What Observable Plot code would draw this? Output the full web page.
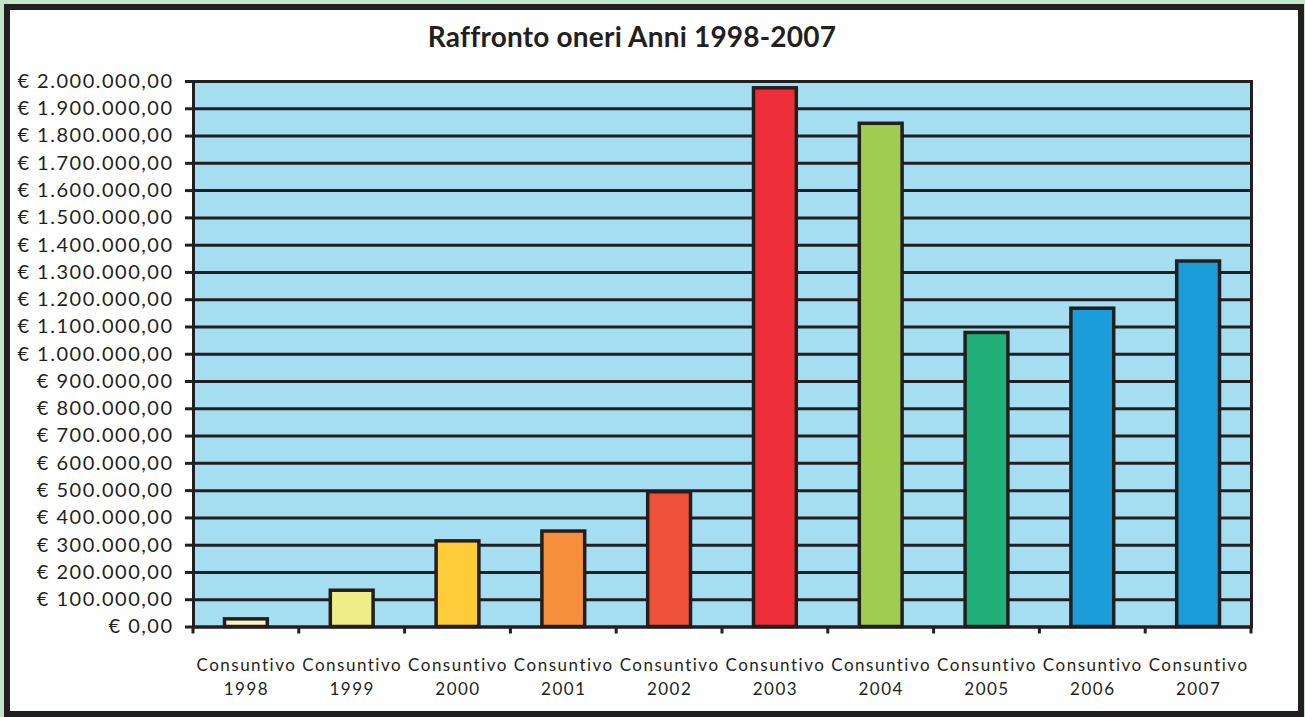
<!DOCTYPE html>
<html><head><meta charset="utf-8">
<script src="https://cdn.jsdelivr.net/npm/d3@7"></script>
<script src="https://cdn.jsdelivr.net/npm/@observablehq/plot@0.6"></script>
<style>
html,body{margin:0;padding:0;background:#c4e3c8;width:1305px;height:717px;overflow:hidden;font-family:Lato,sans-serif}
#panel{position:absolute;left:4px;top:4px;width:1288px;height:701px;border:6px solid #231f20;background:#fff}
#title{position:absolute;left:0;top:19px;width:1264px;text-align:center;font-size:28px;font-weight:bold;letter-spacing:0.2px;color:#231f20}
#chart{position:absolute;left:0;top:60px}
#chart svg g[aria-label="y-axis tick label"] text{letter-spacing:1.5px}
#chart svg g[aria-label="x-axis tick label"] text{letter-spacing:1.5px}
</style></head><body>
<div id="panel"></div>
<div id="title">Raffronto oneri Anni 1998-2007</div>
<div id="chart"></div>
<script>
const years = ["1998","1999","2000","2001","2002","2003","2004","2005","2006","2007"];
const values = [28000, 133000, 314000, 350000, 494000, 1975000, 1845000, 1078000, 1167000, 1340000];
const colors = ["#fbf3c0","#eeee88","#fdcc38","#f7903c","#ef5238","#ee2e38","#a0cc50","#22b07a","#1a9dd9","#1a9dd9"];
const yTicks = [0,100000,200000,300000,400000,500000,600000,700000,800000,900000,1000000,
  1100000,1200000,1300000,1400000,1500000,1600000,1700000,1800000,1900000,2000000];

const data = years.map((y, i) => ({cat: y, value: values[i], color: colors[i]}));
const fmt = d3.formatLocale({decimal: ",", thousands: ".", grouping: [3], currency: ["€ ", ""]}).format("$,.2f");
const dark = "#231f20";

const boundaryTicks = (index, scales, values, dims) => {
  const x = scales.x;
  const dom = x.domain();
  const bw = x.bandwidth ? x.bandwidth() : (dims.width - dims.marginLeft - dims.marginRight) / dom.length;
  const y0 = dims.height - dims.marginBottom;
  const g = d3.create("svg:g").attr("stroke", dark).attr("stroke-width", 3);
  const edges = dom.map(d => x(d)).concat([x(dom[dom.length - 1]) + bw]);
  for (const e of edges) g.append("line").attr("x1", e).attr("x2", e).attr("y1", y0).attr("y2", y0 + 7);
  return g.node();
};

const plot = Plot.plot({
  width: 1305, height: 657,
  marginLeft: 193, marginRight: 54, marginTop: 21, marginBottom: 90.5,
  x: {domain: years, padding: 0, round: false, label: null},
  y: {domain: [0, 2000000], label: null},
  style: {fontFamily: "Lato, sans-serif", fontSize: "20px", color: dark, background: "transparent", overflow: "visible"},
  marks: [
    Plot.frame({fill: "#a5def0"}),
    Plot.gridY(yTicks, {stroke: dark, strokeOpacity: 1, strokeWidth: 3}),
    Plot.barY(data, {x: "cat", y: "value", fill: "color", stroke: dark, strokeWidth: 3.5, insetLeft: 31.5, insetRight: 31.5}),
    Plot.frame({stroke: dark, strokeWidth: 3}),
    Plot.axisY(yTicks, {tickFormat: fmt, tickSize: 8, tickPadding: 12, strokeWidth: 3, fontSize: 20, fill: dark}),
    Plot.axisX({tickSize: 0, tickPadding: 26, tickFormat: d => "Consuntivo\n" + d, fontSize: 17, lineHeight: 1.45, fill: dark}),
    boundaryTicks
  ]
});
document.getElementById("chart").appendChild(plot);
</script>
</body></html>
